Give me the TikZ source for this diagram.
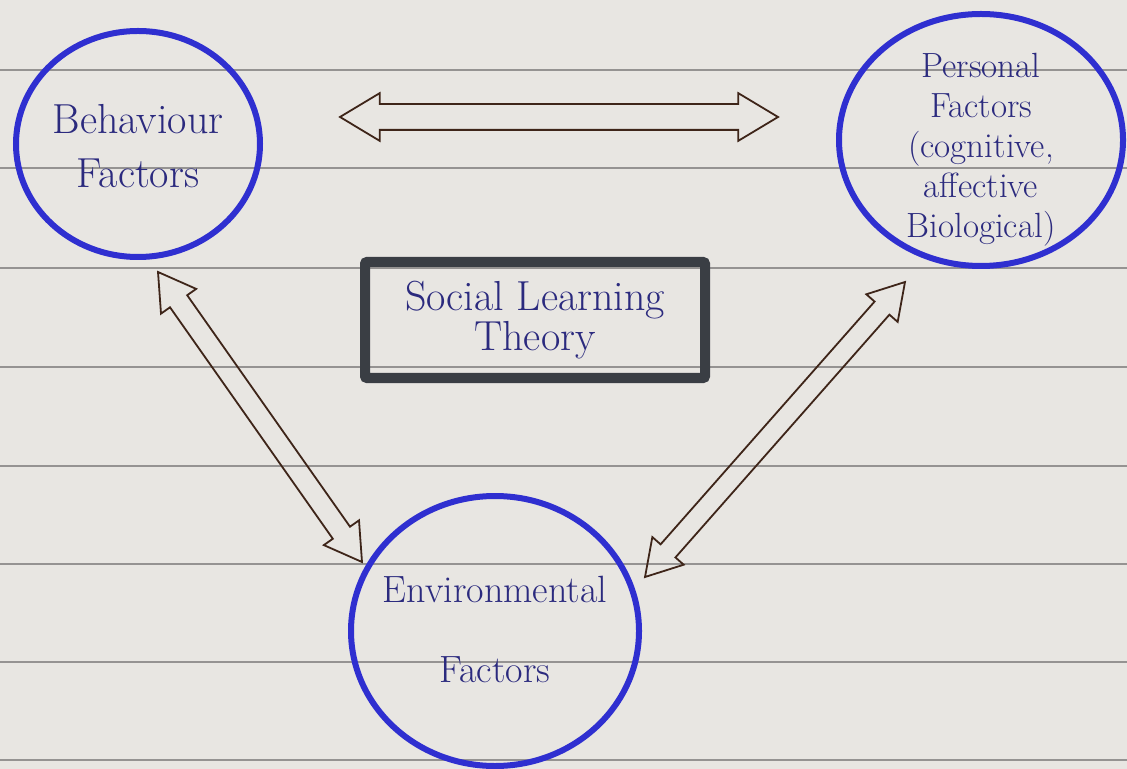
\documentclass[tikz,border=0pt]{standalone}
\usetikzlibrary{shapes.geometric,shapes.arrows,calc}
\definecolor{paper}{HTML}{E8E6E2}
\definecolor{ruleline}{HTML}{959392}
\definecolor{pen}{HTML}{2F2FD0}
\definecolor{ink}{HTML}{2B2A7E}
\definecolor{brownink}{HTML}{3E2519}
\definecolor{marker}{HTML}{3A3E44}
\begin{document}
\begin{tikzpicture}[x=0.5pt,y=-0.5pt,
  circ/.style={ellipse, draw=pen, line width=3pt, inner sep=0pt},
  circtext/.style={text=ink, align=center, inner sep=0pt},
  dblarrow/.style={double arrow, draw=brownink, line width=0.9pt,
    double arrow head extend=5.5pt, double arrow tip angle=62, anchor=center},
  titlebox/.style={draw=marker, line width=5pt, rounded corners=1pt, text=ink, align=center}]
\fill[paper] (0,0) rectangle (1127,769);
\useasboundingbox (0,0) rectangle (1127,769);
\foreach \y in {70,168,268,367,466,564,662,760}
  \draw[ruleline, line width=0.6pt] (0,\y) -- (1127,\y);

\node[circ, minimum width=122pt, minimum height=113pt,
      label={[circtext, font=\fontsize{21}{27}\selectfont, yshift=-1pt]center:{Behaviour\\Factors}}]
      (beh) at (138,144) {};
\node[circ, minimum width=142pt, minimum height=126pt,
      label={[circtext, font=\fontsize{17.5}{20}\selectfont, yshift=-5pt]center:{Personal\\Factors\\(cognitive,\\affective\\Biological)}}]
      (per) at (981,140) {};
\node[circ, minimum width=144pt, minimum height=135pt,
      label={[circtext, font=\fontsize{19}{40}\selectfont, yshift=1pt]center:{Environmental\\Factors}}]
      (env) at (495,631) {};
\node[titlebox, minimum width=170pt, minimum height=58pt,
      font=\fontsize{21}{20}\selectfont] (slt) at (535,320) {Social Learning\\Theory};

\coordinate (h1) at (340,117);
\coordinate (h2) at (778,117);
\coordinate (l1) at (158,272);
\coordinate (l2) at (362,562);
\coordinate (r1) at (905,282);
\coordinate (r2) at (645,577);

\foreach \a/\b/\s in {h1/h2/6pt, l1/l2/4.8pt, r1/r2/4.5pt}
  \path let \p1=($(\b)-(\a)$), \n1={veclen(\x1,\y1)} in
    (\a) -- (\b) node[midway, sloped, dblarrow, inner sep=\s, minimum height=\n1] {};
\end{tikzpicture}
\end{document}
